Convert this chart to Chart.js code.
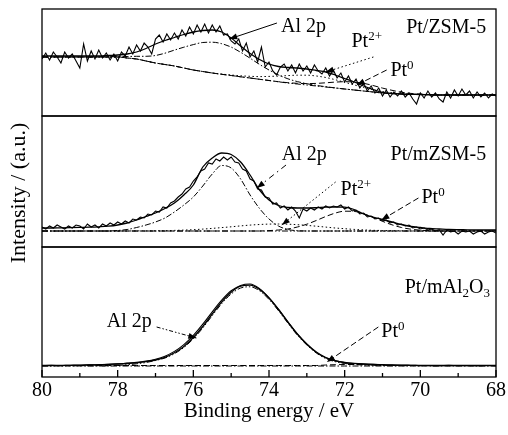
<!DOCTYPE html>
<html>
<head>
<meta charset="utf-8">
<script src="https://cdn.jsdelivr.net/npm/chart.js@4.4.0/dist/chart.umd.min.js"></script>
<style>
  html, body { margin: 0; padding: 0; background: #fff; }
</style>
</head>
<body>
<canvas id="myChart" width="508" height="435"></canvas>
<script>
// binding energy grids (eV)
var energyFit = [80, 79.75, 79.5, 79.25, 79, 78.75, 78.5, 78.25, 78, 77.75, 77.5, 77.25, 77, 76.75, 76.5, 76.25,
  76, 75.75, 75.5, 75.25, 75, 74.75, 74.5, 74.25, 74, 73.75, 73.5, 73.25, 73, 72.75, 72.5, 72.25,
  72, 71.75, 71.5, 71.25, 71, 70.75, 70.5, 70.25, 70, 69.75, 69.5, 69.25, 69, 68.75, 68.5, 68.25, 68];

var energyRaw = [80.0, 79.9, 79.8, 79.7, 79.6, 79.5, 79.4, 79.3, 79.2, 79.1,
  79.0, 78.9, 78.8, 78.7, 78.6, 78.5, 78.4, 78.3, 78.2, 78.1,
  78.0, 77.9, 77.8, 77.7, 77.6, 77.5, 77.4, 77.3, 77.2, 77.1,
  77.0, 76.9, 76.8, 76.7, 76.6, 76.5, 76.4, 76.3, 76.2, 76.1,
  76.0, 75.9, 75.8, 75.7, 75.6, 75.5, 75.4, 75.3, 75.2, 75.1,
  75.0, 74.9, 74.8, 74.7, 74.6, 74.5, 74.4, 74.3, 74.2, 74.1,
  74.0, 73.9, 73.8, 73.7, 73.6, 73.5, 73.4, 73.3, 73.2, 73.1,
  73.0, 72.9, 72.8, 72.7, 72.6, 72.5, 72.4, 72.3, 72.2, 72.1,
  72.0, 71.9, 71.8, 71.7, 71.6, 71.5, 71.4, 71.3, 71.2, 71.1,
  71.0, 70.9, 70.8, 70.7, 70.6, 70.5, 70.4, 70.3, 70.2, 70.1,
  70.0, 69.9, 69.8, 69.7, 69.6, 69.5, 69.4, 69.3, 69.2, 69.1,
  69.0, 68.9, 68.8, 68.7, 68.6, 68.5, 68.4, 68.3, 68.2, 68.1, 68.0];

var xTicks = [80, 78, 76, 74, 72, 70, 68];

// ---- Pt/ZSM-5 (top) ----
var zsmRaw = [57, 63, 56, 64, 59, 53, 64, 58, 62, 55,
  48, 72, 55, 65, 57, 66, 58, 63, 56, 62,
  55, 64, 60, 69, 62, 71, 65, 73, 69, 62,
  77, 81, 74, 82, 76, 83, 77, 86, 80, 89,
  82, 91, 84, 92, 83, 91, 84, 90, 81, 82,
  75, 72, 77, 65, 73, 59, 65, 54, 69, 49,
  54, 45, 41, 49, 52, 45, 51, 43, 52, 45,
  50, 43, 51, 45, 42, 48, 40, 46, 38, 43,
  34, 40, 32, 37, 28, 33, 25, 30, 23, 28,
  20, 26, 19, 24, 20, 25, 19, 23, 17, 12,
  23, 18, 25, 19, 23, 17, 14, 24, 18, 26,
  20, 27, 21, 25, 18, 24, 19, 23, 18, 22, 20];
var zsmEnvelope = [60, 60, 60, 60, 60, 60, 60, 60.5, 61, 62, 64, 67.5, 72, 75.5, 78.5, 81.5,
  84, 85.5, 86, 84, 78, 70, 62.5, 56.5, 52, 49.5, 48.5, 48, 47, 45.5, 44, 41,
  37.5, 34, 30, 26.5, 23.5, 22.5, 22, 21.7, 21.5, 21.2, 21, 21, 21, 21, 21, 21, 21];
var zsmAl = [59, 59, 59, 59, 59, 59, 59.2, 59.4, 59.7, 59.5, 59.7, 59.7, 60.5, 62.8, 65.9, 68.8,
  71.4, 73.5, 73.8, 72.3, 68.9, 63.7, 57.8, 51.6, 46, 41.1, 37.2, 34.4, 32.3, 30.6, 29.3, 28.1,
  27, 26, 25, 24, 23, 22.5, 22, 21.7, 21.5, 21.2, 21, 21, 21, 21, 21, 21, 21];
var zsmPt2 = [59, 59, 59, 59, 59, 59, 59, 59, 59, 58, 57, 55, 53, 51.5, 50, 48,
  46, 44.5, 43, 41.9, 41, 40.2, 39.7, 39.4, 39.6, 39.9, 40.4, 40.8, 40.8, 40, 38.5, 36.3,
  33.7, 31.1, 28.5, 26.3, 24.4, 23.3, 22.4, 21.9, 21.6, 21.2, 21, 21, 21, 21, 21, 21, 21];
var zsmPt0 = [59, 59, 59, 59, 59, 59, 59, 59, 59, 58, 57, 55, 53, 51.5, 50, 48,
  46, 44.5, 43, 41.7, 40.5, 39.2, 38, 36.7, 35.5, 34.3, 33.3, 32.7, 32.4, 32.6, 33.2, 33.9,
  34.3, 34, 32.7, 30.5, 27.9, 25.7, 23.8, 22.6, 21.9, 21.4, 21, 21, 21, 21, 21, 21, 21];
var zsmBackground = [59, 59, 59, 59, 59, 59, 59, 59, 59, 58, 57, 55, 53, 51.5, 50, 48,
  46, 44.5, 43, 41.7, 40.5, 39.2, 38, 36.7, 35.5, 34.2, 33, 32, 31, 30, 29, 28,
  27, 26, 25, 24, 23, 22.5, 22, 21.7, 21.5, 21.2, 21, 21, 21, 21, 21, 21, 21];

// ---- Pt/mZSM-5 (middle) ----
var mzsmRaw = [20, 18, 21, 19, 22, 20, 18, 21, 19, 22,
  21, 18, 23, 20, 22, 19, 23, 21, 24, 22,
  25, 23, 26, 24, 28, 27, 30, 29, 33, 32,
  36, 35, 40, 39, 44, 46, 50, 53, 58, 60,
  66, 70, 76, 78, 84, 83, 88, 86, 90, 87,
  90, 85, 84, 78, 76, 68, 66, 58, 57, 50,
  49, 43, 44, 39, 41, 37, 40, 36, 29, 38,
  36, 39, 37, 40, 38, 41, 39, 41, 40, 42,
  38, 40, 36, 37, 33, 34, 30, 31, 28, 29,
  26, 27, 24, 25, 22, 23, 21, 22, 19, 20,
  18, 19, 17, 18, 16, 17, 12, 17, 15, 16,
  13, 16, 15, 16, 13, 15, 16, 13, 15, 16, 14];
var mzsmEnvelope = [19, 19, 19.2, 19.4, 19.6, 19.8, 20.2, 20.8, 22, 24, 27, 30.5, 34, 38.5, 44, 52,
  62, 80, 89, 94, 92.5, 85, 72, 57, 47, 41.5, 39.5, 39, 39, 39.3, 39.8, 40,
  39.8, 37.5, 33, 30, 27.5, 25, 22.5, 20.5, 19.5, 18.5, 18, 17.5, 17.3, 17.2, 17, 17, 17];
var mzsmAl = [16, 16, 16, 16, 16, 16, 16, 16, 16.5, 17.5, 19.5, 22, 25, 29, 35, 42,
  50, 61, 73, 81.5, 79, 68, 52, 38.5, 28, 21, 17.5, 16.3, 16, 16, 16, 16,
  16, 16, 16, 16, 16, 16, 16, 16, 16, 16, 16, 16, 16, 16, 16, 16, 16];
var mzsmPt2 = [16, 16, 16, 16, 16, 16, 16, 16, 16, 16, 16.1, 16.1, 16.2, 16.3, 16.6, 16.9,
  17.3, 17.9, 18.6, 19.4, 20.2, 21.1, 21.9, 22.5, 22.9, 23, 22.8, 22.3, 21.6, 20.8, 19.9, 19,
  18.3, 17.6, 17.1, 16.7, 16.5, 16.3, 16.2, 16.1, 16, 16, 16, 16, 16, 16, 16, 16, 16];
var mzsmPt0 = [16, 16, 16, 16, 16, 16, 16, 16, 16, 16, 16, 16, 16, 16, 16, 16,
  16, 16, 16, 16, 16, 16, 16, 16, 16.4, 17, 18, 20, 22.8, 26.5, 30.5, 33.9,
  35.8, 35.6, 33.3, 29.7, 25.7, 22.2, 19.5, 17.8, 16.8, 16.3, 16, 16, 16, 16, 16, 16, 16];
var mzsmBackground = [16, 16, 16, 16, 16, 16, 16, 16, 16, 16, 16, 16, 16, 16, 16, 16,
  16, 16, 16, 16, 16, 16, 16, 16, 16, 16, 16, 16, 16, 16, 16, 16,
  16, 16, 16, 16, 16, 16, 16, 16, 16, 16, 16, 16, 16, 16, 16, 16, 16];

// ---- Pt/mAl2O3 (bottom) ----
var alRaw = [11.3, 11.6, 11.4, 11.8, 11.7, 12.2, 12.1, 12.8, 13.1, 13.9, 14.6, 15.9, 17.8, 20.8, 25.6, 32.4,
  41.6, 52.8, 65.2, 76.8, 86.2, 91.6, 93, 88.4, 79.4, 67.8, 55, 42.8, 32.6, 24.6, 19.2, 16.1,
  14.4, 13.5, 12.9, 12.6, 12.1, 11.9, 11.6, 11.8, 11.4, 11.5, 11.3, 11.6, 11.4, 11.5, 11.2, 11.5, 11.4];
var alEnvelope = [11.5, 11.5, 11.6, 11.7, 11.8, 12, 12.3, 12.6, 13, 13.5, 14.2, 15.3, 17, 19.7, 24.2, 30.6,
  39.5, 50.5, 63, 75, 84.8, 90.8, 91.8, 87.6, 78.9, 67.5, 55, 43, 33, 25, 19.5, 16.3,
  14.5, 13.6, 13, 12.6, 12.3, 12, 11.8, 11.7, 11.6, 11.5, 11.5, 11.5, 11.5, 11.5, 11.5, 11.5, 11.5];
var alAl = [11.2, 11.2, 11.2, 11.2, 11.2, 11.2, 11.2, 11.2, 11.6, 12.2, 13.2, 14.5, 16.5, 19, 23.3, 29.5,
  38.2, 49, 61.4, 73.3, 83, 89, 90.2, 86.2, 77.6, 66.3, 53.8, 41.8, 32, 24, 18.5, 15.3,
  13.5, 12.6, 12, 11.7, 11.5, 11.3, 11.3, 11.3, 11.3, 11.3, 11.3, 11.3, 11.3, 11.3, 11.3, 11.3, 11.3];
var alPt0 = [11.5, 11.5, 11.5, 11.5, 11.5, 11.5, 11.5, 11.5, 11.5, 11.5, 11.5, 11.5, 11.5, 11.5, 11.5, 11.5,
  11.5, 11.5, 11.5, 11.5, 11.5, 11.5, 11.5, 11.5, 11.5, 11.5, 11.5, 11.5, 11.5, 11.5, 12, 12.3,
  12.5, 12.5, 12.3, 12, 11.8, 11.5, 11.5, 11.5, 11.5, 11.5, 11.5, 11.5, 11.5, 11.5, 11.5, 11.5, 11.5];
var alBackground = [11, 11, 11, 11, 11, 11, 11, 11, 11, 11, 11, 11, 11, 11, 11, 11,
  11, 11, 11, 11, 11, 11, 11, 11, 11, 11, 11, 11, 11, 11, 11, 11,
  11, 11, 11, 11, 11, 11, 11, 11, 11, 11, 11, 11, 11, 11, 11, 11, 11];

var SERIF = '"Liberation Serif", "Times New Roman", serif';
var DASH_AL = [6, 2, 1.5, 2];
var DASH_PT2 = [1.5, 2.5];
var DASH_PT0 = [6, 3];
var DASH_BG = [6, 2, 1.5, 2, 1.5, 2];

function pts(xs, ys) {
  return xs.map(function (x, i) { return { x: x, y: ys[i] }; });
}

function line(label, xs, ys, axis, dash, width, smooth) {
  return {
    label: label,
    data: pts(xs, ys),
    yAxisID: axis,
    borderColor: '#000',
    borderWidth: width,
    borderDash: dash,
    pointRadius: 0,
    fill: false,
    tension: smooth ? 0.4 : 0,
    cubicInterpolationMode: smooth ? 'monotone' : 'default'
  };
}

// leader lines with arrow tip, in [energy, intensity] of their panel
var leaders = [
  { axis: 'yTop', from: [73.79, 93], to: [75.05, 77], dash: [] },
  { axis: 'yTop', from: [71.24, 59], to: [72.5, 44], dash: DASH_PT2 },
  { axis: 'yTop', from: [70.89, 46], to: [71.68, 31], dash: DASH_PT0 },
  { axis: 'yMid', from: [73.55, 82], to: [74.32, 59], dash: [6, 4, 1.5, 4] },
  { axis: 'yMid', from: [72.24, 65], to: [73.66, 22], dash: DASH_PT2 },
  { axis: 'yMid', from: [70.05, 49], to: [71.03, 27], dash: DASH_PT0 },
  { axis: 'yBot', from: [76.97, 50], to: [75.92, 39], dash: [4, 2, 1.5, 2, 1.5, 2] },
  { axis: 'yBot', from: [71.11, 50], to: [72.47, 15], dash: DASH_PT0 }
];

var labels = [
  { axis: 'yTop', x: 73.68, y: 84, parts: [['Al 2p']] },
  { axis: 'yTop', x: 71.82, y: 69, parts: [['Pt'], ['2+', 'sup']] },
  { axis: 'yTop', x: 70.79, y: 40, parts: [['Pt'], ['0', 'sup']] },
  { axis: 'yTop', x: 68.26, y: 83, parts: [['Pt/ZSM-5']], right: true },
  { axis: 'yMid', x: 73.66, y: 87, parts: [['Al 2p']] },
  { axis: 'yMid', x: 72.11, y: 52, parts: [['Pt'], ['2+', 'sup']] },
  { axis: 'yMid', x: 69.97, y: 44, parts: [['Pt'], ['0', 'sup']] },
  { axis: 'yMid', x: 68.26, y: 87, parts: [['Pt/mZSM-5']], right: true },
  { axis: 'yBot', x: 78.29, y: 50, parts: [['Al 2p']] },
  { axis: 'yBot', x: 71.03, y: 40, parts: [['Pt'], ['0', 'sup']] },
  { axis: 'yBot', x: 68.16, y: 84, parts: [['Pt/mAl'], ['2', 'sub'], ['O'], ['3', 'sub']], right: true }
];

function arrowHead(ctx, x0, y0, x1, y1) {
  var a = Math.atan2(y1 - y0, x1 - x0);
  var L = 8, W = 3;
  ctx.beginPath();
  ctx.moveTo(x1, y1);
  ctx.lineTo(x1 - L * Math.cos(a) + W * Math.sin(a), y1 - L * Math.sin(a) - W * Math.cos(a));
  ctx.lineTo(x1 - L * Math.cos(a) - W * Math.sin(a), y1 - L * Math.sin(a) + W * Math.cos(a));
  ctx.closePath();
  ctx.fill();
}

const decorPlugin = {
  id: 'decor',
  afterDatasetsDraw(chart) {
    const ctx = chart.ctx;
    const area = chart.chartArea;
    const xs = chart.scales.x;
    ctx.save();
    ctx.strokeStyle = '#000';
    ctx.fillStyle = '#000';

    // panel frames
    ctx.lineWidth = 1.3;
    ctx.setLineDash([]);
    ['yTop', 'yMid', 'yBot'].forEach(function (id) {
      const s = chart.scales[id];
      ctx.strokeRect(area.left, s.top, area.right - area.left, s.bottom - s.top);
    });

    // inward ticks on the bottom axis
    const yb = chart.scales.yBot.bottom;
    for (let v = 68; v <= 80; v++) {
      const px = xs.getPixelForValue(v);
      const len = v % 2 === 0 ? 7 : 4;
      ctx.beginPath();
      ctx.moveTo(px, yb);
      ctx.lineTo(px, yb - len);
      ctx.stroke();
    }

    // leaders
    ctx.lineWidth = 1;
    leaders.forEach(function (l) {
      const ys = chart.scales[l.axis];
      const x0 = xs.getPixelForValue(l.from[0]), y0 = ys.getPixelForValue(l.from[1]);
      const x1 = xs.getPixelForValue(l.to[0]), y1 = ys.getPixelForValue(l.to[1]);
      ctx.setLineDash(l.dash);
      ctx.beginPath();
      ctx.moveTo(x0, y0);
      ctx.lineTo(x1, y1);
      ctx.stroke();
      ctx.setLineDash([]);
      arrowHead(ctx, x0, y0, x1, y1);
    });

    // labels
    ctx.textBaseline = 'alphabetic';
    ctx.textAlign = 'left';
    labels.forEach(function (lb) {
      const ys = chart.scales[lb.axis];
      let x = xs.getPixelForValue(lb.x);
      const y = ys.getPixelForValue(lb.y);
      let total = 0;
      lb.parts.forEach(function (p) {
        ctx.font = (p[1] ? 13 : 20) + 'px ' + SERIF;
        total += ctx.measureText(p[0]).width;
      });
      if (lb.right) x -= total;
      lb.parts.forEach(function (p) {
        ctx.font = (p[1] ? 13 : 20) + 'px ' + SERIF;
        const dy = p[1] === 'sup' ? -7 : (p[1] === 'sub' ? 4 : 0);
        ctx.fillText(p[0], x, y + dy);
        x += ctx.measureText(p[0]).width;
      });
    });

    // y title
    ctx.font = '22px ' + SERIF;
    ctx.textAlign = 'center';
    ctx.textBaseline = 'middle';
    ctx.translate(19, (area.top + area.bottom) / 2);
    ctx.rotate(-Math.PI / 2);
    ctx.fillText('Intensity / (a.u.)', 0, 0);
    ctx.restore();
  }
};

function yPanel(max) {
  return {
    type: 'linear',
    position: 'left',
    stack: 'xps',
    stackWeight: max,
    min: 0,
    max: max,
    ticks: { display: false },
    grid: { display: false, drawTicks: false },
    border: { display: false },
    afterFit: function (s) { s.width = 0; }
  };
}

const data = {
  datasets: [
    line('bg', energyFit, zsmBackground, 'yTop', DASH_BG, 1, true),
    line('Pt0', energyFit, zsmPt0, 'yTop', DASH_PT0, 1, true),
    line('Pt2+', energyFit, zsmPt2, 'yTop', DASH_PT2, 1, true),
    line('Al 2p', energyFit, zsmAl, 'yTop', DASH_AL, 1, true),
    line('fit', energyFit, zsmEnvelope, 'yTop', [], 1.3, true),
    line('raw', energyRaw, zsmRaw, 'yTop', [], 1.1, false),

    line('bg', energyFit, mzsmBackground, 'yMid', DASH_BG, 1, true),
    line('Pt0', energyFit, mzsmPt0, 'yMid', DASH_PT0, 1, true),
    line('Pt2+', energyFit, mzsmPt2, 'yMid', DASH_PT2, 1, true),
    line('Al 2p', energyFit, mzsmAl, 'yMid', DASH_AL, 1, true),
    line('fit', energyFit, mzsmEnvelope, 'yMid', [], 1.3, true),
    line('raw', energyRaw, mzsmRaw, 'yMid', [], 1.1, false),

    line('bg', energyFit, alBackground, 'yBot', [6, 2, 1.5, 2], 1, true),
    line('Pt0', energyFit, alPt0, 'yBot', DASH_PT0, 1, true),
    line('Al 2p', energyFit, alAl, 'yBot', DASH_BG, 1, true),
    line('fit', energyFit, alEnvelope, 'yBot', [], 1.3, true),
    line('raw', energyFit, alRaw, 'yBot', [], 1.1, true)
  ]
};

const config = {
  type: 'line',
  data: data,
  options: {
    responsive: false,
    animation: false,
    layout: { padding: { left: 42, right: 10, top: 9, bottom: 0 } },
    plugins: {
      legend: { display: false },
      tooltip: { enabled: false }
    },
    scales: {
      x: {
        type: 'linear',
        reverse: true,
        min: 68,
        max: 80,
        afterBuildTicks: function (s) { s.ticks = xTicks.map(function (v) { return { value: v }; }); },
        ticks: { font: { family: SERIF, size: 20 }, color: '#000', padding: 2, maxRotation: 0 },
        grid: { display: false, drawTicks: false },
        border: { display: false },
        title: {
          display: true,
          text: 'Binding energy / eV',
          color: '#000',
          font: { family: SERIF, size: 21 },
          padding: { top: 0, bottom: 11 }
        },
        afterFit: function (s) { s.height = 58; }
      },
      yBot: yPanel(130),
      yMid: yPanel(131),
      yTop: yPanel(107)
    }
  },
  plugins: [decorPlugin]
};

var myChart = new Chart(document.getElementById('myChart'), config);
</script>
</body>
</html>
